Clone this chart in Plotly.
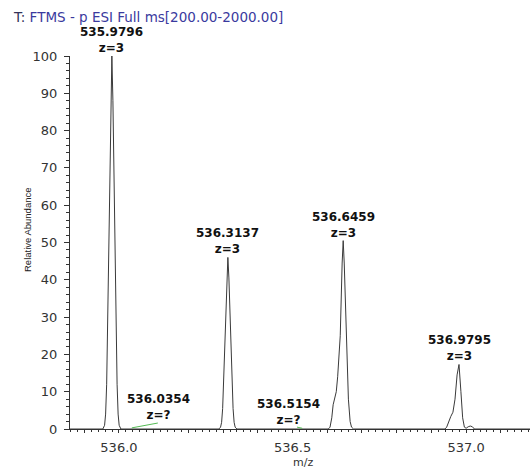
import plotly.graph_objects as go

# ---- data ----
mz = [535.859,
      535.9536, 535.9586, 535.9616, 535.9646, 535.9711, 535.9766, 535.9796,
      535.9826, 535.9881, 535.9946, 535.9976, 536.0006, 536.0056,
      536.2877, 536.2927, 536.2957, 536.2987, 536.3052, 536.3107, 536.3137,
      536.3167, 536.3222, 536.3287, 536.3317, 536.3347, 536.3397,
      536.6030, 536.6080, 536.6130, 536.6170, 536.6220, 536.6260, 536.6300,
      536.6374, 536.6429, 536.6459, 536.6489, 536.6544, 536.6609, 536.6659,
      536.6699, 536.6759,
      536.9390, 536.9440, 536.9500, 536.9560, 536.9620, 536.9680, 536.9740,
      536.9795, 536.9850, 536.9900, 536.9950, 537.0000, 537.0060, 537.0120,
      537.0180, 537.0240,
      537.184]
abundance = [0,
             0, 1, 4, 12, 50, 88, 100,
             88, 50, 12, 4, 1, 0,
             0, 0.5, 1.8, 5.5, 23, 40.5, 46,
             40.5, 23, 5.5, 1.8, 0.5, 0,
             0, 0.5, 3, 6.5, 8.5, 10, 14,
             25, 44.5, 50.5, 44.5, 25, 8, 2,
             0.5, 0,
             0, 0.5, 2.2, 3.4, 4.5, 8, 14.5,
             17.3, 10, 3, 0.5, 0.2, 0.6, 0.8,
             0.6, 0,
             0]

peak_mz = [535.9796, 536.3137, 536.6459, 536.9795]
peak_height = [100, 46, 50.5, 17.3]
peak_label = ["535.9796", "536.3137", "536.6459", "536.9795"]
peak_charge = ["z=3", "z=3", "z=3", "z=3"]

minor_label = ["536.0354", "536.5154"]
minor_charge = ["z=?", "z=?"]
minor_label_mz = [536.114, 536.4885]
minor_label_y = [1.3, 0.1]
leader1_x = [536.037, 536.112]
leader1_y = [0.3, 1.6]
leader2_x = [536.513, 536.528]
leader2_y = [0.5, 0.2]

x_range = [535.859, 537.184]
x_major = [535.9, 536.0, 536.1, 536.2, 536.3, 536.4, 536.5, 536.6, 536.7,
           536.8, 536.9, 537.0, 537.1]
x_major_text = ["", "536.0", "", "", "", "", "536.5", "", "", "", "", "537.0", ""]
y_ticks = [0, 10, 20, 30, 40, 50, 60, 70, 80, 90, 100]

FONT = "DejaVu Sans"
fig = go.Figure()
fig.add_trace(go.Scatter(x=mz, y=abundance, mode="lines",
                         line=dict(color="#3a3a3a", width=1), hoverinfo="skip"))
for lx, ly in [(leader1_x, leader1_y), (leader2_x, leader2_y)]:
    fig.add_trace(go.Scatter(x=lx, y=ly, mode="lines",
                             line=dict(color="#55bb55", width=1), hoverinfo="skip"))

for m, h, t, z in zip(peak_mz, peak_height, peak_label, peak_charge):
    fig.add_annotation(x=m, y=h, xref="x", yref="y", showarrow=False,
                       text=f"<b>{t}</b><br><b>{z}</b>", yanchor="bottom",
                       xanchor="center", yshift=-1,
                       font=dict(family=FONT, size=12, color="#111111"))
for m, h, t, z in zip(minor_label_mz, minor_label_y, minor_label, minor_charge):
    fig.add_annotation(x=m, y=h, xref="x", yref="y", showarrow=False,
                       text=f"<b>{t}</b><br><b>{z}</b>", yanchor="bottom",
                       xanchor="center",
                       font=dict(family=FONT, size=12, color="#111111"))

fig.add_annotation(text="Relative Abundance", textangle=-90, xref="paper", yref="paper",
                   x=(27 - 70) / 460, y=(429 - 230) / 373, showarrow=False,
                   xanchor="center", yanchor="middle",
                   font=dict(family="Liberation Sans", size=9.5, color="#222222"))
fig.add_annotation(text="m/z", xref="paper", yref="paper",
                   x=(303 - 70) / 460, y=(429 - 462) / 373, showarrow=False,
                   xanchor="center", yanchor="middle",
                   font=dict(family=FONT, size=11, color="#333333"))
fig.add_annotation(text="<span style='color:#33335a'>T:</span> FTMS - p ESI Full ms[200.00-2000.00]",
                   xref="paper", yref="paper", x=(11 - 70) / 460, y=(429 - 17) / 373,
                   showarrow=False, xanchor="left", yanchor="middle",
                   font=dict(family=FONT, size=13.5, color="#3a3a9e"))

fig.update_layout(
    width=530, height=470, margin=dict(l=70, r=0, t=56, b=41),
    plot_bgcolor="white", paper_bgcolor="white", showlegend=False,
    xaxis=dict(range=x_range, showgrid=False, zeroline=False, showline=True,
               linecolor="#333333", linewidth=1, ticks="outside", ticklen=3,
               tickcolor="#333333", tickvals=x_major, ticktext=x_major_text,
               ticklabelstandoff=3,
               tickfont=dict(family=FONT, size=13, color="#333333"),
               minor=dict(dtick=0.02, tick0=535.86, ticks="outside", ticklen=2,
                          tickcolor="#333333", showgrid=False)),
    yaxis=dict(range=[0, 100], showgrid=False, zeroline=False, showline=True,
               linecolor="#333333", linewidth=1, ticks="outside", ticklen=5,
               tickcolor="#333333", tickvals=y_ticks, ticklabelstandoff=4,
               tickfont=dict(family=FONT, size=13, color="#333333"),
               minor=dict(dtick=2, ticks="outside", ticklen=3,
                          tickcolor="#333333", showgrid=False)),
)
fig.write_html("out.html")
